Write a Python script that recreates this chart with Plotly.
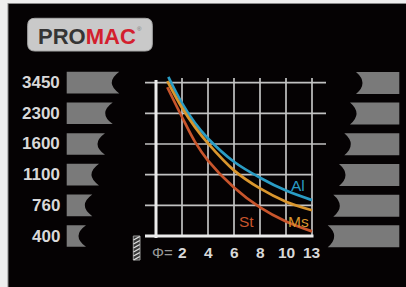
import plotly.graph_objects as go

# ---------------- data ----------------
speed_labels = ["400", "760", "1100", "1600", "2300", "3450"]   # rows 0..5 (bottom -> top)
diameter_ticks = ["2", "4", "6", "8", "10", "13"]
diameter_pos = [2, 4, 6, 8, 10, 12]                              # grid columns

series_names = ["Al", "Ms", "St"]
al_x = [0.95, 2, 3, 4, 6, 8, 10, 12]
al_y = [5.19, 4.33, 3.68, 3.18, 2.42, 1.90, 1.48, 1.17]
ms_x = [0.87, 2, 3, 4, 6, 8, 10, 12]
ms_y = [5.05, 4.18, 3.55, 3.02, 2.14, 1.55, 1.12, 0.84]
st_x = [0.87, 2, 3, 4, 6, 8, 10, 12]
st_y = [4.85, 3.88, 3.07, 2.46, 1.58, 0.93, 0.47, 0.15]

# ---------------- geometry helpers ----------------
W, H = 406, 287
X0, XU = 156.0, 13.0      # pixel of x=0, pixels per unit
Y0, YU = 236.0, 30.67     # pixel of y=0, pixels per unit


def X(px):
    return (px - X0) / XU


def Y(py):
    return (Y0 - py) / YU


def PX(x):
    return X0 + x * XU


def PY(y):
    return Y0 - y * YU


BLUE = "#2a9cc4"
ORANGE = "#d9962e"
RED = "#c8552c"
GRID = "#c2c2c2"
AXIS = "#ececec"
BAR = "#7a7a7a"
LABEL = "#d8d8d8"

fig = go.Figure()

for name, xs, ys, col in [("Al", al_x, al_y, BLUE), ("Ms", ms_x, ms_y, ORANGE), ("St", st_x, st_y, RED)]:
    fig.add_trace(go.Scatter(x=xs, y=ys, mode="lines", name=name,
                             line=dict(color=col, width=2.7, shape="spline", smoothing=1.0),
                             hoverinfo="skip", showlegend=False))

shapes = []

# border strips (top / left)
shapes.append(dict(type="rect", xref="paper", yref="paper", x0=0, x1=8 / W, y0=0, y1=1,
                   fillcolor="#eeeeee", line_width=0, layer="above"))
shapes.append(dict(type="rect", xref="paper", yref="paper", x0=0, x1=1, y0=1 - 3 / H, y1=1,
                   fillcolor="#eeeeee", line_width=0, layer="above"))
shapes.append(dict(type="line", xref="paper", yref="paper", x0=8 / W, x1=8 / W, y0=0, y1=1 - 3 / H,
                   line=dict(color="#8a8a8a", width=1), layer="above"))
shapes.append(dict(type="line", xref="paper", yref="paper", x0=8 / W, x1=1, y0=1 - 3.5 / H, y1=1 - 3.5 / H,
                   line=dict(color="#8a8a8a", width=1), layer="above"))

# grid: horizontal lines at each speed row
for i in range(1, len(speed_labels)):
    xr = 326 if i >= 3 else 313
    shapes.append(dict(type="line", x0=X(145), x1=X(xr), y0=i, y1=i,
                       line=dict(color=GRID, width=1.7), layer="below"))
# grid: vertical lines at each diameter column
for p in diameter_pos:
    shapes.append(dict(type="line", x0=p, x1=p, y0=0, y1=Y(78),
                       line=dict(color=GRID, width=1.7), layer="below"))
# axes
shapes.append(dict(type="line", x0=0, x1=0, y0=Y(238), y1=Y(80),
                   line=dict(color=AXIS, width=3), layer="below"))
shapes.append(dict(type="line", x0=X(145), x1=X(313.5), y0=0, y1=0,
                   line=dict(color=AXIS, width=3), layer="below"))

# left flag bars (notch on right)
left_right_px = [86, 92.3, 99, 105, 112.7, 119.3]
for i, xr in enumerate(left_right_px):
    yc = PY(i)
    yt, yb = yc - 10.8, yc + 10.8
    d = 7.5
    path = (f"M {X(66.7)},{Y(yt)} L {X(xr)},{Y(yt)} "
            f"Q {X(xr - 2 * d)},{Y(yc)} {X(xr)},{Y(yb)} L {X(66.7)},{Y(yb)} Z")
    shapes.append(dict(type="path", path=path, fillcolor=BAR, line_width=0, layer="below"))

# right flag bars (notch on left)
right_left_px = [327.7, 333.3, 339, 344.3, 350, 356]
for i, xl in enumerate(right_left_px):
    yc = PY(i) + 0.3
    yt, yb = yc - 11, yc + 11
    d = 6.5
    path = (f"M {X(399.3)},{Y(yt)} L {X(xl)},{Y(yt)} "
            f"Q {X(xl + 2 * d)},{Y(yc)} {X(xl)},{Y(yb)} L {X(399.3)},{Y(yb)} Z")
    shapes.append(dict(type="path", path=path, fillcolor=BAR, line_width=0, layer="below"))

# logo plate (rounded rectangle)
lx0, lx1, ly0, ly1, r = 27.7, 152.3, 18.3, 51.0, 7
logo_path = (f"M {X(lx0 + r)},{Y(ly0)} L {X(lx1 - r)},{Y(ly0)} Q {X(lx1)},{Y(ly0)} {X(lx1)},{Y(ly0 + r)} "
             f"L {X(lx1)},{Y(ly1 - r)} Q {X(lx1)},{Y(ly1)} {X(lx1 - r)},{Y(ly1)} "
             f"L {X(lx0 + r)},{Y(ly1)} Q {X(lx0)},{Y(ly1)} {X(lx0)},{Y(ly1 - r)} "
             f"L {X(lx0)},{Y(ly0 + r)} Q {X(lx0)},{Y(ly0)} {X(lx0 + r)},{Y(ly0)} Z")
shapes.append(dict(type="path", path=logo_path, fillcolor="#c9c9c9",
                   line=dict(color="#a8a8a8", width=1), layer="below"))

# drill icon
shapes.append(dict(type="rect", x0=X(133.3), x1=X(140), y0=Y(260), y1=Y(236),
                   fillcolor="#3a3a3a", line=dict(color="#9a9a9a", width=1), layer="below"))
for k in range(6):
    shapes.append(dict(type="line", x0=X(133.5), x1=X(139.8), y0=Y(240 + 4 * k), y1=Y(236.5 + 4 * k),
                       line=dict(color="#e0e0e0", width=1.4), layer="below"))

annotations = []
# y labels
for i, lab in enumerate(speed_labels):
    annotations.append(dict(x=X(62), y=i, text=lab, showarrow=False, xanchor="right", yanchor="middle",
                            font=dict(family="Liberation Sans, Arial", size=17, color=LABEL, weight="bold")))
# x labels
for p, lab in zip(diameter_pos, diameter_ticks):
    annotations.append(dict(x=p, y=Y(252), text=lab, showarrow=False, xanchor="center", yanchor="middle",
                            font=dict(family="Liberation Sans, Arial", size=15.5, color=LABEL, weight="bold")))
annotations.append(dict(x=X(162), y=Y(252), text="Φ=", showarrow=False, xanchor="center", yanchor="middle",
                        font=dict(family="Liberation Sans, Arial", size=15, color="#9a9a9a")))
# series labels
for name, px, py, col in [("Al", 297.7, 185, BLUE), ("Ms", 298.3, 221.5, ORANGE), ("St", 246.7, 221.7, RED)]:
    annotations.append(dict(x=X(px), y=Y(py), text=name, showarrow=False, xanchor="center", yanchor="middle",
                            font=dict(family="Liberation Sans, Arial", size=15.5, color=col)))
# logo text
annotations.append(dict(x=X(86.5), y=Y(36.5), showarrow=False, xanchor="center", yanchor="middle",
                        text="<span style='color:#353535'>PRO</span><span style='color:#d3202e'>MAC</span>",
                        font=dict(family="Liberation Sans, Arial", size=22, weight="bold")))
annotations.append(dict(x=X(139), y=Y(29), showarrow=False, xanchor="center", yanchor="middle",
                        text="®", font=dict(family="Liberation Sans, Arial", size=6, color="#777777")))

fig.update_layout(
    width=W, height=H, autosize=False,
    margin=dict(l=0, r=0, t=0, b=0),
    paper_bgcolor="#050203", plot_bgcolor="#050203",
    xaxis=dict(range=[X(0), X(W)], visible=False, fixedrange=True),
    yaxis=dict(range=[Y(H), Y(0)], visible=False, fixedrange=True),
    shapes=shapes, annotations=annotations, showlegend=False,
)

fig.write_html("out.html",
               config={"displayModeBar": False},
               post_script="document.body.style.margin='0px';document.body.style.overflow='hidden';")
